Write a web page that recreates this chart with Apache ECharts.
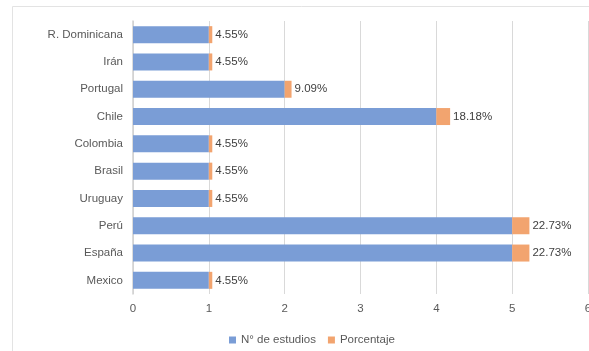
<!DOCTYPE html>
<html>
<head>
<meta charset="utf-8">
<script src="https://cdn.jsdelivr.net/npm/echarts@6/dist/echarts.min.js"></script>
<style>
  html, body { margin: 0; padding: 0; background: #fff; }
  #chart { width: 589px; height: 351px; }
</style>
</head>
<body>
<div id="chart"></div>
<script>
// countries, top to bottom
const paises = ['R. Dominicana', 'Irán', 'Portugal', 'Chile', 'Colombia', 'Brasil', 'Uruguay', 'Perú', 'España', 'Mexico']
const estudios = [1, 1, 2, 4, 1, 1, 1, 5, 5, 1]
const porcentaje = [0.0455, 0.0455, 0.0909, 0.1818, 0.0455, 0.0455, 0.0455, 0.2273, 0.2273, 0.0455]
const xTicks = [0, 1, 2, 3, 4, 5, 6]

const font = 'Liberation Sans, Arial, sans-serif'
const txt = '#595959'

const myChart = echarts.init(document.getElementById('chart'))

myChart.setOption({
  animation: false,
  textStyle: { fontFamily: font },
  graphic: [{
    type: 'rect',
    shape: { x: 12.5, y: 6.5, width: 700, height: 500 },
    style: { fill: 'none', stroke: '#e3e3e3', lineWidth: 1 },
    silent: true
  }],
  grid: { left: 133, right: 1, top: 21, bottom: 57, outerBoundsMode: 'none', containLabel: false },
  legend: {
    left: 224,
    top: 329,
    itemWidth: 7,
    itemHeight: 7,
    itemGap: 12,
    icon: 'rect',
    textStyle: { color: txt, fontSize: 11.5, fontFamily: font },
    data: ['N° de estudios', 'Porcentaje']
  },
  xAxis: {
    type: 'value',
    min: xTicks[0],
    max: xTicks[xTicks.length - 1],
    interval: 1,
    axisLine: { show: false },
    axisTick: { show: false },
    axisLabel: { color: txt, fontSize: 11.5, margin: 9 },
    splitLine: { lineStyle: { color: '#d9d9d9' } }
  },
  yAxis: {
    type: 'category',
    inverse: true,
    data: paises,
    axisLine: { lineStyle: { color: '#d0d0d0', width: 1.5 } },
    axisTick: { show: false },
    axisLabel: { color: txt, fontSize: 11.5, margin: 10 }
  },
  series: [
    {
      name: 'N° de estudios',
      type: 'bar',
      stack: 'total',
      barWidth: 17,
      itemStyle: { color: '#7a9dd6' },
      data: estudios
    },
    {
      name: 'Porcentaje',
      type: 'bar',
      stack: 'total',
      barWidth: 17,
      itemStyle: { color: '#f2a46f' },
      label: {
        show: true,
        position: 'right',
        distance: 3,
        color: '#404040',
        fontSize: 11.5,
        formatter: p => (p.value * 100).toFixed(2) + '%'
      },
      data: porcentaje
    }
  ]
})
</script>
</body>
</html>
